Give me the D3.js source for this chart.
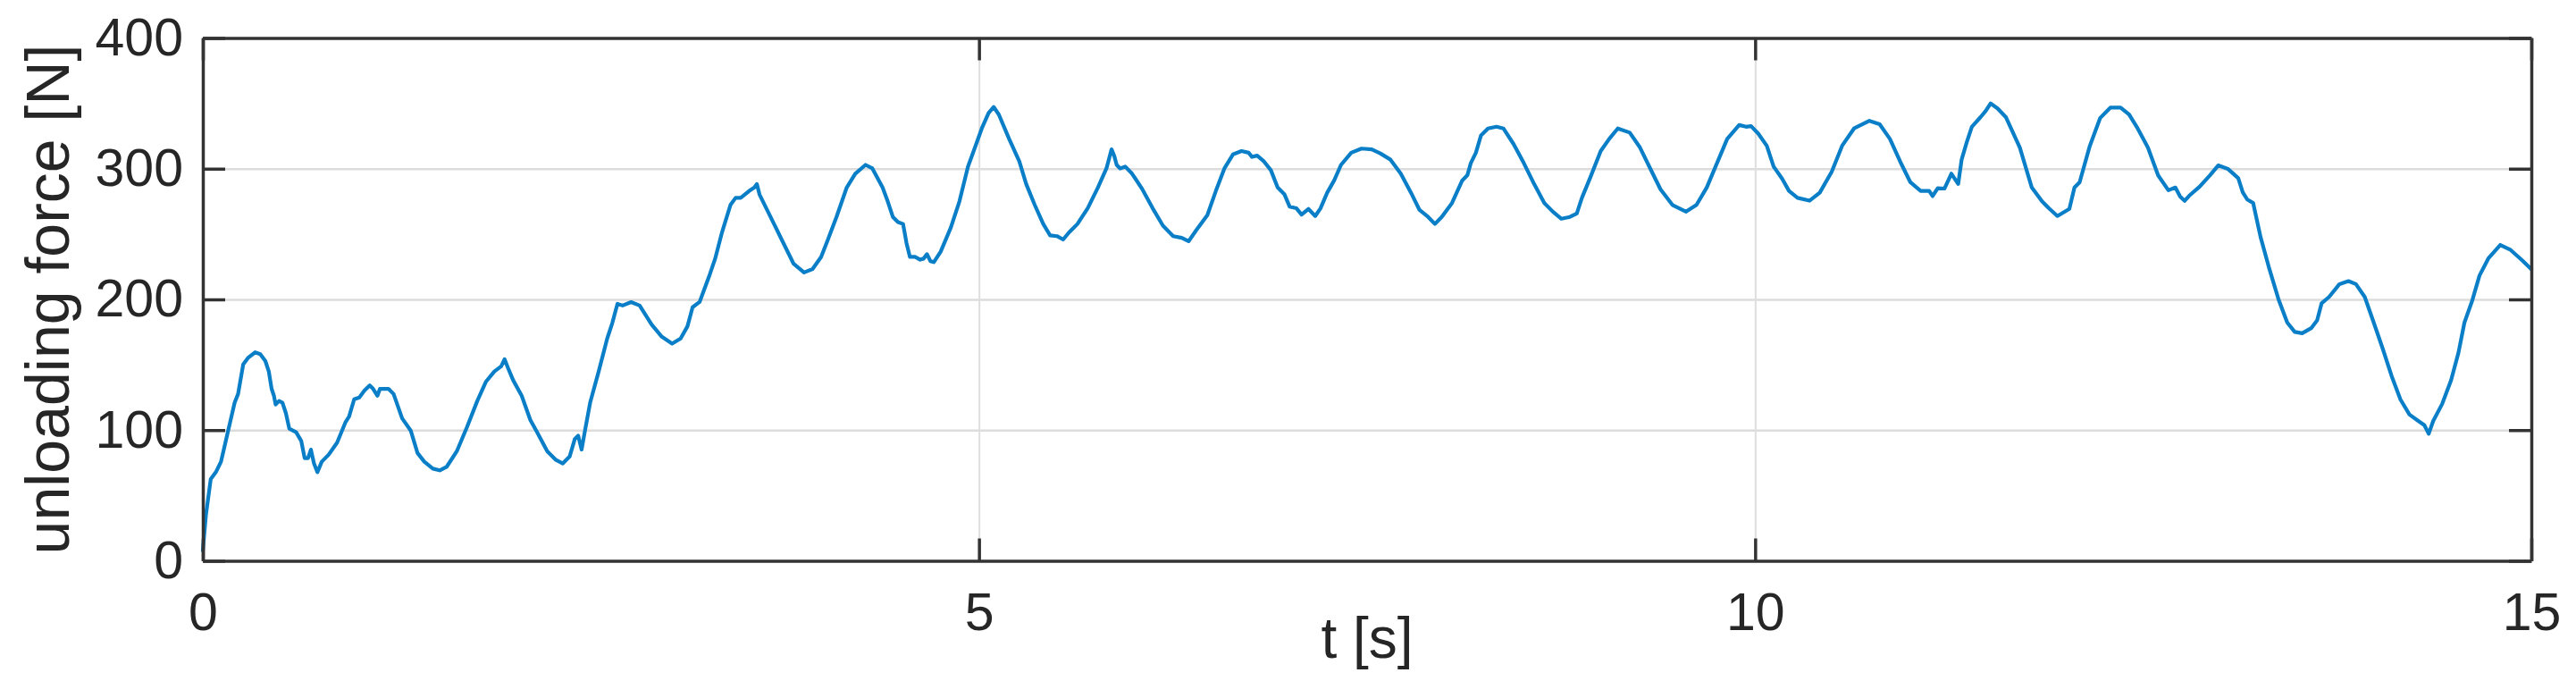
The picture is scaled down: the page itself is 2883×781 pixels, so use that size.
<!DOCTYPE html>
<html>
<head>
<meta charset="utf-8">
<script src="https://cdn.jsdelivr.net/npm/d3@7"></script>
<style>
  html, body { margin: 0; padding: 0; background: #fff; }
  svg { display: block; }
  text { font-family: "Liberation Sans", Arial, Helvetica, sans-serif; fill: #262626; }
</style>
</head>
<body>
<svg id="chart" width="2883" height="781"></svg>
<script>
// ---- data ----
const timeS = [
  0,0.02,0.051,0.084,0.117,0.161,0.205,0.227,0.26,0.293,0.337,0.37,0.403,0.425,0.443,0.458,0.469,0.491,0.513,0.535,
  0.557,0.601,0.634,0.656,0.678,0.696,0.716,0.738,0.766,0.81,0.865,0.92,0.942,0.975,1.008,1.041,1.075,1.097,1.125,1.141,
  1.163,1.196,1.229,1.284,1.339,1.383,1.427,1.482,1.526,1.57,1.636,1.702,1.768,1.823,1.878,1.922,1.944,1.966,1.999,2.054,
  2.11,2.153,2.219,2.275,2.319,2.363,2.396,2.418,2.44,2.462,2.495,2.55,2.605,2.638,2.671,2.704,2.759,2.814,2.891,2.957,
  3.023,3.078,3.122,3.155,3.2,3.266,3.3,3.344,3.399,3.432,3.465,3.52,3.553,3.569,3.586,3.63,3.674,3.74,3.806,3.873,
  3.928,3.983,4.027,4.082,4.148,4.203,4.269,4.313,4.379,4.412,4.445,4.478,4.511,4.533,4.555,4.588,4.621,4.643,4.665,4.687,
  4.709,4.753,4.819,4.874,4.929,4.974,5.018,5.062,5.095,5.128,5.194,5.26,5.304,5.359,5.414,5.458,5.502,5.542,5.579,5.634,
  5.7,5.766,5.821,5.854,5.872,5.887,5.909,5.942,5.986,6.052,6.119,6.185,6.251,6.306,6.35,6.405,6.471,6.526,6.581,6.636,
  6.691,6.737,6.759,6.792,6.836,6.88,6.924,6.968,7.001,7.045,7.078,7.122,7.166,7.2,7.243,7.288,7.332,7.398,7.464,7.53,
  7.585,7.651,7.717,7.783,7.838,7.893,7.937,7.981,8.047,8.113,8.146,8.168,8.201,8.234,8.279,8.334,8.378,8.444,8.51,8.576,
  8.642,8.697,8.752,8.807,8.851,8.884,8.939,9.005,9.06,9.115,9.192,9.258,9.324,9.39,9.467,9.555,9.622,9.688,9.754,9.82,
  9.897,9.941,9.974,10.02,10.075,10.119,10.174,10.218,10.273,10.35,10.416,10.493,10.56,10.637,10.736,10.802,10.868,10.934,11.0,11.066,
  11.121,11.143,11.176,11.22,11.264,11.308,11.33,11.363,11.396,11.451,11.484,11.517,11.561,11.616,11.705,11.782,11.848,11.892,11.947,12.024,
  12.057,12.09,12.156,12.222,12.288,12.354,12.409,12.464,12.53,12.596,12.662,12.707,12.738,12.767,12.796,12.863,12.93,12.983,13.045,13.112,
  13.141,13.17,13.208,13.256,13.313,13.371,13.428,13.476,13.524,13.582,13.62,13.649,13.697,13.764,13.822,13.87,13.927,13.985,14.042,14.1,
  14.157,14.215,14.272,14.311,14.339,14.368,14.426,14.483,14.531,14.569,14.618,14.666,14.723,14.8,14.867,14.944,15.0
];
const forceN = [
  8,35,62.5,67.8,75.8,98.4,121,127.6,150.2,155.5,159.5,158.1,152.8,144.9,131.6,126.3,119.6,122.3,121,113,
  101.1,98.4,91.7,78.5,78.5,85.1,74.5,67.8,75.8,81.1,90.4,106.3,110.3,123.6,125,130.2,134.2,131.6,126.3,131.6,
  131.6,131.6,127.6,109,99.7,82.5,75.8,70.5,69.2,71.8,83.8,102.4,122.3,136.9,144.9,148.8,154.2,147.5,138.2,126.3,
  107.7,98.4,83.8,77.1,74.5,79.8,93.1,95.7,85.1,99.7,121,144.9,170.1,182,196.6,195.3,197.9,195.3,180.7,171.4,
  166.1,170.1,179.4,194,198,219.2,231,251.1,272.3,277.7,277.7,283,285.6,288.3,280.3,269.7,259.1,243.1,227.2,220.6,
  223.2,232.5,245.8,263.1,285.6,296.2,302.9,300.2,285.6,275,263.1,259.1,257.7,243.1,232.5,232.5,230.4,231.2,234.6,229.3,
  228.5,236.5,255.1,275,301.6,316.2,330.8,342.7,347.2,341.4,322.8,305.5,288.3,272.3,257.7,249,248.4,245.8,251.1,257.7,
  269.7,285.6,300.2,314.8,309.5,302.9,300.2,301.6,296.2,284.3,269.7,256.4,248.4,247.1,244.5,253.8,264.4,283,300.2,310.9,
  313.5,312.2,309,310,305.5,298.9,285.6,280.3,271,269.7,264.9,269.2,263.8,269.7,281.6,291,302.9,312.2,315.4,314.8,
  311.7,306.9,296.2,281.6,268.4,263.1,257.7,263.1,273.7,291,295,304.2,312.2,325.5,330.8,332.1,330.8,318.8,304.2,288.3,
  273.7,267.1,261.7,263.1,265.7,277.7,293.6,313.5,322.8,330.8,327.6,316.2,300.2,284.3,272.3,267.1,272.3,285.6,304.2,322.8,
  333.4,332.1,332.6,326.8,317.5,301.6,292.3,283,277.7,275.5,281.6,297.6,317.5,330.8,336.6,334,322.8,305.5,289.6,283,
  283,279,285.1,284.8,296.2,288.3,306.9,320.2,332.1,339.3,344,349.9,346.2,339.3,316.2,285.6,275,269.7,263.8,269.2,
  285.6,289.6,317.5,338.7,346.7,346.7,341.4,330.8,316.2,294.9,283.5,285.6,278.7,275.4,279.3,286.2,295,302.5,299.9,292.7,
  282,276.4,273.8,247.6,223.1,200.2,182.2,175.1,174.1,178,183.9,197,201.9,211.7,214,211.7,201.9,182.2,162.6,141.4,
  123.4,111.9,107,103.8,97.2,107,120.1,138.1,159.4,182.2,198.6,218.2,231.3,241.7,237.8,229.6,223.1
];
const xTicks = [0, 5, 10, 15];
const yTicks = [0, 100, 200, 300, 400];
const xGrid = [5, 10];
const yGrid = [100, 200, 300];
const xDomain = [0, 15];
const yDomain = [0, 400];
const xLabel = "t [s]";
const yLabel = "unloading force [N]";

// ---- layout ----
const L = 227, R = 2833, T = 42.5, B = 627.5;
const W = R - L, H = B - T;
const svg = d3.select("#chart");
const g = svg.append("g").attr("transform", `translate(${L},${T})`);

const x = d3.scaleLinear().domain(xDomain).range([0, W]);
const y = d3.scaleLinear().domain(yDomain).range([H, 0]);

// grid lines
const gy = g.append("g").call(d3.axisLeft(y).tickValues(yGrid).tickSize(-W).tickFormat(""));
gy.select(".domain").remove();
gy.selectAll("line").attr("stroke", "#dcdcdc").attr("stroke-width", 2.5);
const gx = g.append("g").attr("transform", `translate(0,${H})`)
  .call(d3.axisBottom(x).tickValues(xGrid).tickSize(-H).tickFormat(""));
gx.select(".domain").remove();
gx.selectAll("line").attr("stroke", "#dedede").attr("stroke-width", 2);

// data line
const pts = timeS.map((t, i) => [t, forceN[i]]);
g.append("path")
  .datum(pts)
  .attr("fill", "none")
  .attr("stroke", "#0a7fc8")
  .attr("stroke-width", 4.2)
  .attr("stroke-linejoin", "round")
  .attr("stroke-linecap", "round")
  .attr("d", d3.line().x(d => x(d[0])).y(d => y(d[1])));

// axes with inward ticks on all four sides
const tickLen = 25;
const axisColor = "#333333";
function styleAxis(sel) {
  sel.select(".domain").attr("stroke", axisColor).attr("stroke-width", 3.5);
  sel.selectAll(".tick line").attr("stroke", axisColor).attr("stroke-width", 3.5);
  sel.selectAll(".tick text").attr("font-size", 59).attr("fill", "#222")
    .attr("font-family", '"Liberation Sans", Arial, sans-serif');
}
const axL = g.append("g")
  .call(d3.axisLeft(y).tickValues(yTicks).tickSizeInner(-tickLen).tickSizeOuter(0).tickPadding(22));
styleAxis(axL);
const axR = g.append("g").attr("transform", `translate(${W},0)`)
  .call(d3.axisRight(y).tickValues(yTicks).tickSizeInner(-tickLen).tickSizeOuter(0).tickFormat(""));
styleAxis(axR);
const axB = g.append("g").attr("transform", `translate(0,${H})`)
  .call(d3.axisBottom(x).tickValues(xTicks).tickSizeInner(-tickLen).tickSizeOuter(0).tickPadding(36));
styleAxis(axB);
const axT = g.append("g")
  .call(d3.axisTop(x).tickValues(xTicks).tickSizeInner(-tickLen).tickSizeOuter(0).tickFormat(""));
styleAxis(axT);

// axis titles
svg.append("text")
  .attr("transform", `translate(77,${(T + B) / 2}) rotate(-90)`)
  .attr("text-anchor", "middle")
  .attr("font-size", 68)
  .attr("fill", "#222")
  .text(yLabel);

svg.append("text")
  .attr("x", (L + R) / 2)
  .attr("y", 736)
  .attr("text-anchor", "middle")
  .attr("font-size", 64)
  .attr("fill", "#222")
  .text(xLabel);
</script>
</body>
</html>
